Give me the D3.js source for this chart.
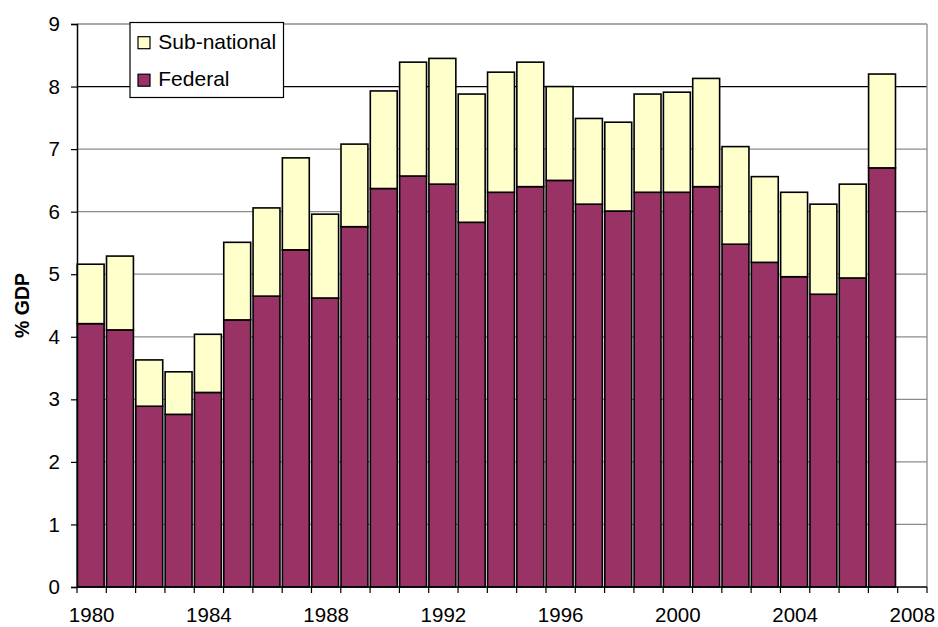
<!DOCTYPE html>
<html>
<head>
<meta charset="utf-8">
<script src="https://cdn.jsdelivr.net/npm/d3@7"></script>
<style>
  html, body { margin: 0; padding: 0; background: #fff; }
  svg { display: block; }
  text { font-family: "Liberation Sans", Arial, sans-serif; }
</style>
</head>
<body>
<svg id="chart" width="938" height="627"></svg>
<script>
// ---- data ----
const years = d3.range(1980, 2009); // 1980..2008 categories (2008 empty)
const federal = [4.21, 4.11, 2.89, 2.76, 3.11, 4.27, 4.65, 5.39, 4.62, 5.76,
                 6.37, 6.57, 6.44, 5.83, 6.31, 6.40, 6.50, 6.12, 6.01, 6.31,
                 6.31, 6.40, 5.48, 5.19, 4.96, 4.68, 4.94, 6.70];
const total = [5.16, 5.29, 3.63, 3.44, 4.04, 5.51, 6.06, 6.86, 5.96, 7.08,
               7.93, 8.39, 8.45, 7.88, 8.23, 8.39, 8.00, 7.49, 7.43, 7.88,
               7.91, 8.13, 7.04, 6.56, 6.31, 6.12, 6.44, 8.20];
const subNational = total.map((t, i) => +(t - federal[i]).toFixed(2));
const barYears = years.slice(0, federal.length);
const xLabelYears = [1980, 1984, 1988, 1992, 1996, 2000, 2004, 2008];
const yTicks = [0, 1, 2, 3, 4, 5, 6, 7, 8, 9];
const seriesNames = ["Sub-national", "Federal"];
const colors = { "Federal": "#993366", "Sub-national": "#FFFFCC" };

// ---- layout ----
const svg = d3.select("#chart");
const mLeft = 77, mRight = 927, mTop = 24, mBottom = 587;
const FONT = '"Liberation Sans", Arial, sans-serif';

const x = d3.scaleBand().domain(years).range([mLeft, mRight]).padding(0);
const y = d3.scaleLinear().domain([0, 9]).range([mBottom, mTop]);

// gridlines
svg.append("g").selectAll("line")
  .data(yTicks.filter(d => d > 0))
  .join("line")
  .attr("x1", mLeft).attr("x2", mRight)
  .attr("y1", d => y(d)).attr("y2", d => y(d))
  .attr("stroke", d => d === 8 ? "#000" : "#8c8c8c")
  .attr("stroke-width", 1.3);

// right border
svg.append("line")
  .attr("x1", mRight).attr("x2", mRight).attr("y1", mTop).attr("y2", mBottom)
  .attr("stroke", "#8c8c8c").attr("stroke-width", 1.3);

// stacked data
const stackData = barYears.map((yr, i) => ({ year: yr, "Federal": federal[i], "Sub-national": subNational[i] }));
const stack = d3.stack().keys(["Federal", "Sub-national"]);
const layers = stack(stackData);

const bw = x.bandwidth() - 2.4;
svg.append("g").selectAll("g")
  .data(layers)
  .join("g")
  .attr("fill", d => colors[d.key])
  .selectAll("rect")
  .data(d => d)
  .join("rect")
  .attr("x", d => x(d.data.year) + 0.2)
  .attr("width", bw)
  .attr("y", d => y(d[1]))
  .attr("height", d => y(d[0]) - y(d[1]))
  .attr("stroke", "#000")
  .attr("stroke-width", 1.6);

// y axis
const yAxis = svg.append("g")
  .attr("transform", `translate(${mLeft},0)`)
  .call(d3.axisLeft(y).tickValues(yTicks).tickSize(6).tickPadding(11).tickFormat(d3.format("d")));
yAxis.select(".domain").attr("stroke", "#000").attr("stroke-width", 1.5);
yAxis.selectAll(".tick line").attr("stroke", "#000").attr("stroke-width", 1.2);
yAxis.selectAll("text").attr("font-size", 20.5).attr("fill", "#000").attr("font-family", FONT);

// x axis: labels centered on categories
const xAxis = svg.append("g")
  .attr("transform", `translate(0,${mBottom})`)
  .call(d3.axisBottom(x).tickValues(xLabelYears).tickSize(0).tickPadding(20));
xAxis.select(".domain").remove();
xAxis.selectAll("text").attr("font-size", 20.5).attr("fill", "#000").attr("font-family", FONT);

// x baseline + tick marks at category boundaries
svg.append("line")
  .attr("x1", mLeft).attr("x2", mRight).attr("y1", mBottom).attr("y2", mBottom)
  .attr("stroke", "#000").attr("stroke-width", 1.5);
const boundaries = years.map(yr => x(yr)).concat([mRight]);
svg.append("g").selectAll("line")
  .data(boundaries)
  .join("line")
  .attr("x1", d => d).attr("x2", d => d)
  .attr("y1", mBottom).attr("y2", mBottom + 6)
  .attr("stroke", "#000").attr("stroke-width", 1.2);

// y axis title
svg.append("text")
  .attr("transform", `translate(29,${(mTop + mBottom) / 2}) rotate(-90)`)
  .attr("text-anchor", "middle")
  .attr("font-size", 19.5)
  .attr("font-weight", "bold")
  .text("% GDP");

// legend
const lg = svg.append("g");
lg.append("rect")
  .attr("x", 130).attr("y", 22.5).attr("width", 153.5).attr("height", 75)
  .attr("fill", "#fff").attr("stroke", "#000").attr("stroke-width", 1.2);
const legendRows = lg.selectAll("g.row")
  .data(seriesNames)
  .join("g")
  .attr("class", "row")
  .attr("transform", (d, i) => `translate(138,${36.7 + i * 37.5})`);
legendRows.append("rect")
  .attr("width", 12).attr("height", 12)
  .attr("fill", d => colors[d])
  .attr("stroke", "#000").attr("stroke-width", 1.2);
legendRows.append("text")
  .attr("x", 20.3).attr("y", 12)
  .attr("font-size", 21)
  .text(d => d);
</script>
</body>
</html>
